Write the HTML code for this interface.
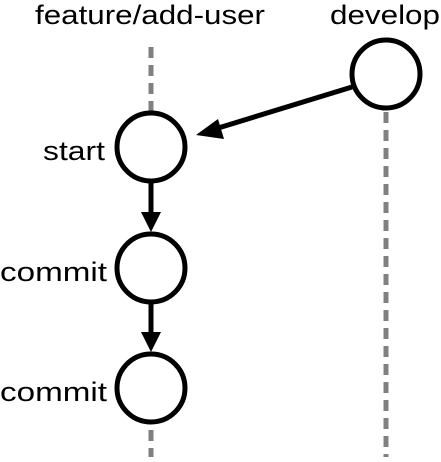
<!DOCTYPE html>
<html><head><style>body{margin:0;background:#fff}</style></head><body>
<svg width="441" height="457" xmlns="http://www.w3.org/2000/svg" font-family="Liberation Sans, sans-serif" font-size="27">
<text x="35" y="24" textLength="230" lengthAdjust="spacingAndGlyphs">feature/add-user</text>
<text x="330" y="24" textLength="110" lengthAdjust="spacingAndGlyphs">develop</text>
<g stroke="#808080" stroke-width="5" stroke-dasharray="11,7">
<line x1="151" y1="47" x2="151" y2="114"/>
<line x1="151" y1="430" x2="151" y2="457"/>
<line x1="386" y1="112" x2="386" y2="457"/>
</g>
<g fill="#fff" stroke="#000" stroke-width="5">
<circle cx="386" cy="74" r="34"/>
<circle cx="151" cy="147" r="34"/>
<circle cx="151" cy="268" r="34"/>
<circle cx="151" cy="388" r="34"/>
</g>
<g stroke="#000" stroke-width="5">
<line x1="352" y1="87" x2="215" y2="129"/>
<line x1="151" y1="181" x2="151" y2="213"/>
<line x1="151" y1="302" x2="151" y2="333"/>
</g>
<g fill="#000">
<polygon points="196,135 218,119 224,139"/>
<polygon points="151,232 141,212 161,212"/>
<polygon points="151,352 141,332 161,332"/>
</g>
<text x="43" y="160" textLength="62" lengthAdjust="spacingAndGlyphs">start</text>
<text x="0" y="281" textLength="107" lengthAdjust="spacingAndGlyphs">commit</text>
<text x="0" y="401" textLength="107" lengthAdjust="spacingAndGlyphs">commit</text>
</svg>
</body></html>
